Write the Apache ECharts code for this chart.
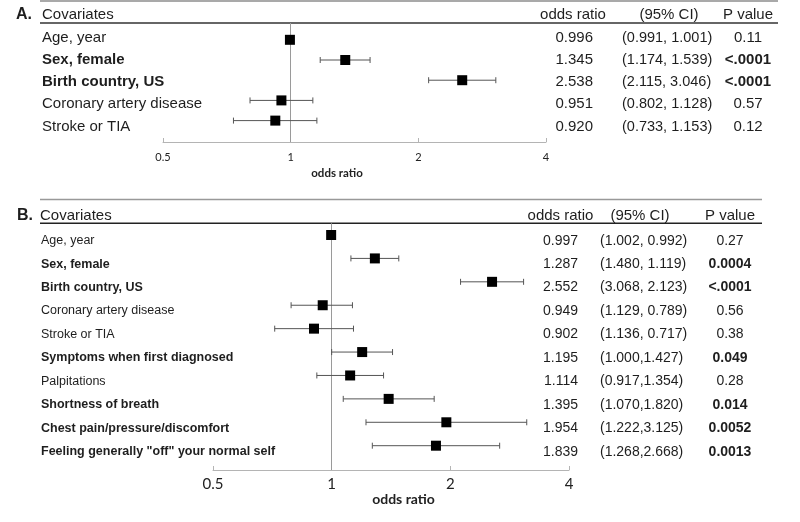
<!DOCTYPE html>
<html>
<head>
<meta charset="utf-8">
<script src="https://cdn.jsdelivr.net/npm/echarts@6/dist/echarts.min.js"></script>
<style>html,body{margin:0;padding:0;background:#fff}#chart{width:800px;height:522px}</style>
</head>
<body>
<div id="chart"></div>
<script>
// ---------- Panel A data ----------
const covA = ['Age, year', 'Sex, female', 'Birth country, US', 'Coronary artery disease', 'Stroke or TIA'];
const orA = [0.996, 1.345, 2.538, 0.951, 0.920];
const loA = [0.991, 1.174, 2.115, 0.802, 0.733];
const hiA = [1.001, 1.539, 3.046, 1.128, 1.153];
const orLabA = ['0.996', '1.345', '2.538', '0.951', '0.920'];
const ciLabA = ['(0.991, 1.001)', '(1.174, 1.539)', '(2.115, 3.046)', '(0.802, 1.128)', '(0.733, 1.153)'];
const pLabA = ['0.11', '<.0001', '<.0001', '0.57', '0.12'];
const boldA = [false, true, true, false, false];

// ---------- Panel B data ----------
const covB = ['Age, year', 'Sex, female', 'Birth country, US', 'Coronary artery disease', 'Stroke or TIA',
  'Symptoms when first diagnosed', 'Palpitations', 'Shortness of breath',
  'Chest pain/pressure/discomfort', 'Feeling generally "off" your normal self'];
const orB = [0.997, 1.287, 2.552, 0.949, 0.902, 1.195, 1.114, 1.395, 1.954, 1.839];
const ci1B = [1.002, 1.480, 3.068, 1.129, 1.136, 1.000, 0.917, 1.070, 1.222, 1.268];
const ci2B = [0.992, 1.119, 2.123, 0.789, 0.717, 1.427, 1.354, 1.820, 3.125, 2.668];
const orLabB = ['0.997', '1.287', '2.552', '0.949', '0.902', '1.195', '1.114', '1.395', '1.954', '1.839'];
const ciLabB = ['(1.002, 0.992)', '(1.480, 1.119)', '(3.068, 2.123)', '(1.129, 0.789)', '(1.136, 0.717)',
  '(1.000,1.427)', '(0.917,1.354)', '(1.070,1.820)', '(1.222,3.125)', '(1.268,2.668)'];
const pLabB = ['0.27', '0.0004', '<.0001', '0.56', '0.38', '0.049', '0.28', '0.014', '0.0052', '0.0013'];
const boldB = [false, true, true, false, false, true, false, true, true, true];

const headers = ['Covariates', 'odds ratio', '(95% CI)', 'P value'];
const xMin = 0.5, xMax = 4;

const SANS = '"Liberation Sans", Arial, Helvetica, sans-serif';
const TXT = '#1e1e1e';

function richFor(size) {
  return {
    n: { fontFamily: SANS, fontSize: size, color: TXT },
    b: { fontFamily: SANS, fontSize: size, color: TXT, fontWeight: 'bold' }
  };
}
function boldFmt(flags) {
  return (v, i) => (flags[i] ? '{b|' : '{n|') + v + '}';
}
function plainFmt() { return v => '{n|' + v + '}'; }

function textAxis(grid, data, position, margin, align, fmt, size) {
  return {
    type: 'category', gridIndex: grid, inverse: true, data: data, position: position,
    axisLine: { show: false }, axisTick: { show: false }, splitLine: { show: false },
    axisLabel: { interval: 0, margin: margin, align: align, formatter: fmt, rich: richFor(size) }
  };
}

function errData(a, b) {
  return a.map((v, i) => [Math.min(v, b[i]), Math.max(v, b[i]), i]);
}
function errRender(cap) {
  return function (params, api) {
    const y = api.value(2);
    const p1 = api.coord([api.value(0), y]);
    const p2 = api.coord([api.value(1), y]);
    const st = { stroke: '#555', lineWidth: 1 };
    return {
      type: 'group', children: [
        { type: 'line', shape: { x1: p1[0], y1: p1[1], x2: p2[0], y2: p2[1] }, style: st },
        { type: 'line', shape: { x1: p1[0], y1: p1[1] - cap, x2: p1[0], y2: p1[1] + cap }, style: st },
        { type: 'line', shape: { x1: p2[0], y1: p2[1] - cap, x2: p2[0], y2: p2[1] + cap }, style: st }
      ]
    };
  };
}
function logAxis(grid, labelSize, labelMargin, nameSize, nameGap, namePad) {
  return {
    type: 'log', logBase: 2, min: xMin, max: xMax, gridIndex: grid, position: 'bottom',
    axisLine: { show: true, onZero: false, lineStyle: { color: '#b4b4b4', width: 1 } },
    axisTick: { show: true, inside: true, length: 4, lineStyle: { color: '#b4b4b4' } },
    splitLine: { show: false },
    axisLabel: {
      margin: labelMargin, color: '#222', fontFamily: 'Lato, "Open Sans", sans-serif', fontSize: labelSize,
      formatter: v => String(Number(Number(v).toFixed(3)))
    },
    name: 'odds ratio', nameLocation: 'middle', nameGap: nameGap,
    nameTextStyle: { fontFamily: 'Lato, "Open Sans", sans-serif', fontWeight: 'bold', fontSize: nameSize, color: '#222', padding: namePad }
  };
}
function hiddenX(grid) { return { type: 'value', gridIndex: grid, show: false, min: 0, max: 1 }; }

function text(x, y, str, font, align) {
  return { type: 'text', x: x, y: y, style: { text: str, font: font, fill: TXT, textAlign: align || 'left', textVerticalAlign: 'middle' } };
}
function hline(x1, x2, y, color, w) {
  return { type: 'line', shape: { x1: x1, y1: y, x2: x2, y2: y }, style: { stroke: color, lineWidth: w } };
}

const refLine = {
  silent: true, symbol: 'none', z: 1, label: { show: false },
  lineStyle: { color: '#9a9a9a', width: 1, type: 'solid' }, data: [{ xAxis: 1 }]
};

const chart = echarts.init(document.getElementById('chart'), null, { renderer: 'canvas' });
const option = {
  backgroundColor: '#fff',
  animation: false,
  grid: [
    { left: 163, right: 254, top: 23, height: 119 },          // A plot
    { left: 163, right: 254, top: 26.4, height: 111.25 },      // A table text
    { left: 213, right: 231, top: 223.3, height: 246.7 },      // B plot
    { left: 213, right: 231, top: 229, height: 234.4 }         // B table text
  ],
  xAxis: [
    logAxis(0, 11, 10, 11.5, 25.5, [0, 35, 0, 0]),
    hiddenX(1),
    logAxis(2, 15, 6.5, 14, 20, [0, 0, 0, 25]),
    hiddenX(3)
  ],
  yAxis: [
    { type: 'value', gridIndex: 0, inverse: true, min: -0.832, max: 5.059, show: false },
    textAxis(1, covA, 'left', 121, 'left', boldFmt(boldA), 15),
    textAxis(1, orLabA, 'right', 47, 'right', plainFmt(), 15),
    textAxis(1, ciLabA, 'right', 76, 'left', plainFmt(), 14.5),
    textAxis(1, pLabA, 'right', 202, 'center', boldFmt(boldA), 15),
    { type: 'value', gridIndex: 2, inverse: true, min: -0.5, max: 10.038, show: false },
    textAxis(3, covB, 'left', 172, 'left', boldFmt(boldB), 12.5),
    textAxis(3, orLabB, 'right', 9, 'right', plainFmt(), 14),
    textAxis(3, ciLabB, 'right', 31, 'left', plainFmt(), 14),
    textAxis(3, pLabB, 'right', 161, 'center', boldFmt(boldB), 14)
  ],
  series: [
    {
      type: 'custom', xAxisIndex: 0, yAxisIndex: 0, z: 2,
      renderItem: errRender(3), encode: { x: [0, 1], y: 2 },
      data: errData(loA, hiA), markLine: refLine
    },
    {
      type: 'scatter', xAxisIndex: 0, yAxisIndex: 0, z: 10, symbol: 'rect', symbolSize: 10,
      itemStyle: { color: '#000', opacity: 1 }, data: orA.map((v, i) => [v, i])
    },
    {
      type: 'custom', xAxisIndex: 2, yAxisIndex: 5, z: 2,
      renderItem: errRender(3), encode: { x: [0, 1], y: 2 },
      data: errData(ci1B, ci2B), markLine: refLine
    },
    {
      type: 'scatter', xAxisIndex: 2, yAxisIndex: 5, z: 10, symbol: 'rect', symbolSize: 10,
      itemStyle: { color: '#000', opacity: 1 }, data: orB.map((v, i) => [v, i])
    }
  ],
  graphic: [
    hline(40, 778, 1, '#8c8c8c', 1.5),
    hline(40, 778, 23, '#333', 1.5),
    hline(40, 762, 199.5, '#999', 1.5),
    hline(40, 762, 223.3, '#222', 1.5),
    text(16, 15, 'A.', 'bold 16px ' + SANS),
    text(42, 15, headers[0], '15px ' + SANS),
    text(573, 15, headers[1], '15px ' + SANS, 'center'),
    text(669, 15, headers[2], '15px ' + SANS, 'center'),
    text(748, 15, headers[3], '15px ' + SANS, 'center'),
    text(17, 215.5, 'B.', 'bold 16px ' + SANS),
    text(40, 215.5, headers[0], '15px ' + SANS),
    text(560.5, 215.5, headers[1], '15px ' + SANS, 'center'),
    text(640, 215.5, headers[2], '15px ' + SANS, 'center'),
    text(730, 215.5, headers[3], '15px ' + SANS, 'center')
  ]
};
chart.setOption(option);
</script>
</body>
</html>
